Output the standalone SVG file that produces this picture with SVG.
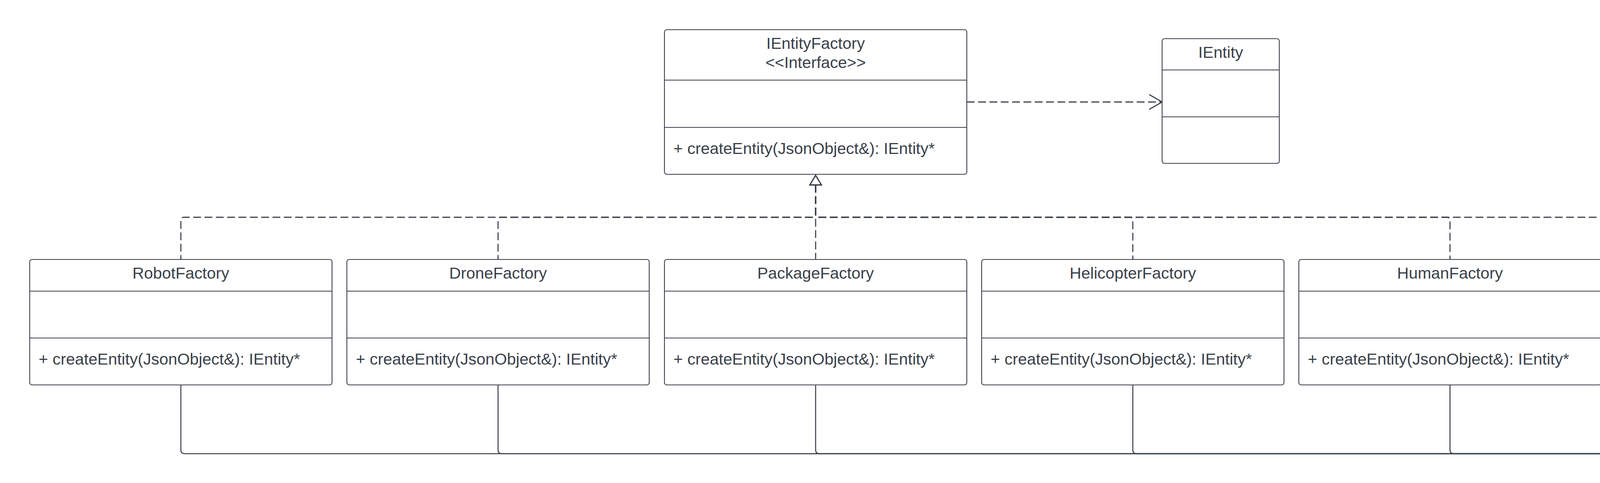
<svg xmlns="http://www.w3.org/2000/svg" width="4988" height="1236" viewBox="0 0 4988 1236">
<style>
.box{fill:#ffffff;stroke:#3a414a;stroke-width:2.2}
.div{stroke:#3a414a;stroke-width:2.2}
.t{font-family:"Liberation Sans",Arial,sans-serif;font-size:41.3px;fill:#3a414a}
.c{text-anchor:middle}
.dash{fill:none;stroke:#3a414a;stroke-width:2.8;stroke-dasharray:20 9}
.solid{fill:none;stroke:#3a414a;stroke-width:2.6}
</style>
<defs>
<marker id="tri" markerUnits="userSpaceOnUse" orient="auto-start-reverse" refX="0" refY="0" markerWidth="40" markerHeight="40" overflow="visible">
<polygon points="0,-14.5 24,0 0,14.5" fill="#ffffff" stroke="#3a414a" stroke-width="2.8" stroke-linejoin="miter"/>
</marker>
<marker id="open" markerUnits="userSpaceOnUse" orient="auto" refX="0" refY="0" markerWidth="40" markerHeight="40" overflow="visible">
<path d="M-33,-19 L0,0 L-33,19" fill="none" stroke="#3a414a" stroke-width="2.8"/>
</marker>
<marker id="dia" markerUnits="userSpaceOnUse" orient="auto" refX="0" refY="0" markerWidth="60" markerHeight="60" overflow="visible">
<polygon points="0,0 28,-29 56,0 28,29" fill="#3a414a"/>
</marker>
</defs>
<rect width="4988" height="1236" fill="#ffffff"/>
<g id="connectors">
<path class="dash" marker-start="url(#tri)" d="M2088,473 V548 Q2088,556 2080,556 H471 Q463,556 463,564 V664"/>
<path class="dash" marker-start="url(#tri)" d="M2088,473 V548 Q2088,556 2080,556 H1283 Q1275,556 1275,564 V664"/>
<path class="dash" marker-start="url(#tri)" d="M2088,473 V664"/>
<path class="dash" marker-start="url(#tri)" d="M2088,473 V548 Q2088,556 2096,556 H2892 Q2900,556 2900,564 V664"/>
<path class="dash" marker-start="url(#tri)" d="M2088,473 V548 Q2088,556 2096,556 H3704 Q3712,556 3712,564 V664"/>
<path class="dash" marker-start="url(#tri)" d="M2088,473 V548 Q2088,556 2096,556 H4517 Q4525,556 4525,564 V614"/>
<path class="dash" marker-end="url(#open)" d="M2475,261 H2975"/>
<path class="solid" marker-end="url(#dia)" d="M463,985 V1151 Q463,1161 473,1161 H4515 Q4525,1161 4525,1151 V1143"/>
<path class="solid" marker-end="url(#dia)" d="M1275,985 V1151 Q1275,1161 1285,1161 H4515 Q4525,1161 4525,1151 V1143"/>
<path class="solid" marker-end="url(#dia)" d="M2088,985 V1151 Q2088,1161 2098,1161 H4515 Q4525,1161 4525,1151 V1143"/>
<path class="solid" marker-end="url(#dia)" d="M2900,985 V1151 Q2900,1161 2910,1161 H4515 Q4525,1161 4525,1151 V1143"/>
<path class="solid" marker-end="url(#dia)" d="M3712,985 V1151 Q3712,1161 3722,1161 H4515 Q4525,1161 4525,1151 V1143"/>
</g>
<g id="IEntityFactory">
<rect class="box" x="1701" y="76" width="774" height="370" rx="6"/>
<line class="div" x1="1701" y1="205" x2="2475" y2="205"/>
<line class="div" x1="1701" y1="326" x2="2475" y2="326"/>
<text class="t c" x="2088" y="125">IEntityFactory</text>
<text class="t c" x="2088" y="174">&lt;&lt;Interface&gt;&gt;</text>
<text class="t" x="1724" y="394">+ createEntity(JsonObject&amp;): IEntity*</text>
</g>
<g id="IEntity">
<rect class="box" x="2975" y="99" width="300" height="319" rx="6"/>
<line class="div" x1="2975" y1="179" x2="3275" y2="179"/>
<line class="div" x1="2975" y1="299" x2="3275" y2="299"/>
<text class="t c" x="3125" y="148">IEntity</text>
</g>
<g id="RobotFactory">
<rect class="box" x="76" y="664" width="774" height="321" rx="6"/>
<line class="div" x1="76" y1="745" x2="850" y2="745"/>
<line class="div" x1="76" y1="865" x2="850" y2="865"/>
<text class="t c" x="463" y="713">RobotFactory</text>
<text class="t" x="99" y="933">+ createEntity(JsonObject&amp;): IEntity*</text>
</g>
<g id="DroneFactory">
<rect class="box" x="888" y="664" width="774" height="321" rx="6"/>
<line class="div" x1="888" y1="745" x2="1662" y2="745"/>
<line class="div" x1="888" y1="865" x2="1662" y2="865"/>
<text class="t c" x="1275" y="713">DroneFactory</text>
<text class="t" x="911" y="933">+ createEntity(JsonObject&amp;): IEntity*</text>
</g>
<g id="PackageFactory">
<rect class="box" x="1701" y="664" width="774" height="321" rx="6"/>
<line class="div" x1="1701" y1="745" x2="2475" y2="745"/>
<line class="div" x1="1701" y1="865" x2="2475" y2="865"/>
<text class="t c" x="2088" y="713">PackageFactory</text>
<text class="t" x="1724" y="933">+ createEntity(JsonObject&amp;): IEntity*</text>
</g>
<g id="HelicopterFactory">
<rect class="box" x="2513" y="664" width="774" height="321" rx="6"/>
<line class="div" x1="2513" y1="745" x2="3287" y2="745"/>
<line class="div" x1="2513" y1="865" x2="3287" y2="865"/>
<text class="t c" x="2900" y="713">HelicopterFactory</text>
<text class="t" x="2536" y="933">+ createEntity(JsonObject&amp;): IEntity*</text>
</g>
<g id="HumanFactory">
<rect class="box" x="3325" y="664" width="774" height="321" rx="6"/>
<line class="div" x1="3325" y1="745" x2="4099" y2="745"/>
<line class="div" x1="3325" y1="865" x2="4099" y2="865"/>
<text class="t c" x="3712" y="713">HumanFactory</text>
<text class="t" x="3348" y="933">+ createEntity(JsonObject&amp;): IEntity*</text>
</g>
<g id="CompositeFactory">
<rect class="box" x="4137" y="614" width="776" height="472" rx="6"/>
<line class="div" x1="4137" y1="695" x2="4913" y2="695"/>
<line class="div" x1="4137" y1="865" x2="4913" y2="865"/>
<text class="t c" x="4525" y="664">CompositeFactory</text>
<text class="t" x="4160" y="763">- componentFactories:</text>
<text class="t" x="4160" y="813">vector&lt;IEntityFactory*&gt;</text>
<text class="t" x="4160" y="933">+ ~CompositeFactory()</text>
<text class="t" x="4160" y="983">+ createEntity(JsonObject&amp;): IEntity*</text>
<text class="t" x="4160" y="1033">+ addFactory(IEntityFactory*): void</text>
</g>
</svg>
